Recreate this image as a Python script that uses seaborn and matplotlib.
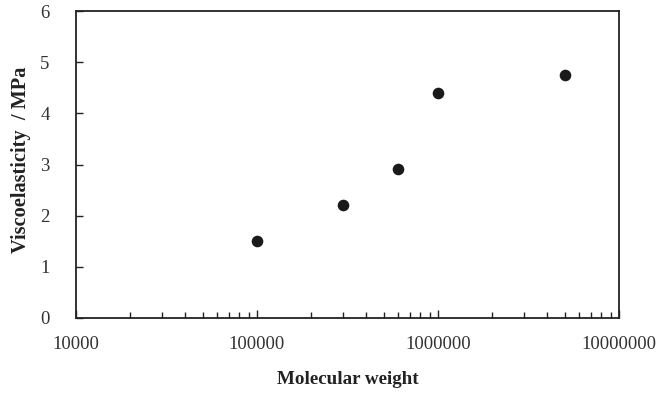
import matplotlib
matplotlib.use("Agg")
import matplotlib.pyplot as plt
import seaborn as sns
import pandas as pd
from matplotlib.ticker import LogLocator, FixedLocator, NullFormatter

molecular_weight = [100000, 300000, 600000, 1000000, 5000000]
viscoelasticity = [1.50, 2.21, 2.91, 4.40, 4.75]
x_ticks = [10000, 100000, 1000000, 10000000]
x_tick_labels = ["10000", "100000", "1000000", "10000000"]
y_ticks = [0, 1, 2, 3, 4, 5, 6]

sns.set_style("white")
plt.rcParams['font.family'] = ['Liberation Serif', 'DejaVu Serif']

df = pd.DataFrame({"mw": molecular_weight, "ve": viscoelasticity})

fig = plt.figure(figsize=(6.56, 3.93), dpi=100)
ax = fig.add_axes([76/656, 1-318/393, (619-76)/656, (318-11)/393])
sns.scatterplot(data=df, x="mw", y="ve", ax=ax, s=70, color="#1a1a1a",
                edgecolor="#1a1a1a", linewidth=0, zorder=3)
ax.set_xscale("log")
ax.set_xlim(10000, 10000000)
ax.set_ylim(0, 6)
ax.xaxis.set_major_locator(FixedLocator(x_ticks))
ax.set_xticklabels(x_tick_labels)
ax.xaxis.set_minor_locator(LogLocator(base=10, subs=range(2, 10)))
ax.xaxis.set_minor_formatter(NullFormatter())
ax.set_yticks(y_ticks)
ax.set_yticklabels([str(v) for v in y_ticks])
for s in ax.spines.values():
    s.set_visible(True)
    s.set_color("#222222")
    s.set_linewidth(1.3)
ax.tick_params(axis="x", which="major", direction="in", length=6, width=1,
               bottom=True, top=False, labelsize=13.5, pad=13, colors="#222222",
               labelcolor="#333333")
ax.tick_params(axis="x", which="minor", direction="in", length=4, width=1,
               bottom=True, top=False, colors="#222222")
ax.tick_params(axis="y", which="major", direction="in", length=5, width=1,
               left=True, right=False, labelsize=13.5, pad=19, colors="#222222",
               labelcolor="#333333")
ax.set_xlabel("Molecular weight", fontsize=13.7, fontweight="bold", labelpad=13,
              color="#222222")
ax.set_ylabel("Viscoelasticity  / MPa", fontsize=14.7, fontweight="bold",
              labelpad=7, color="#222222")
ax.yaxis.label.set_y(0.515)
fig.savefig("out.png", dpi=100)
